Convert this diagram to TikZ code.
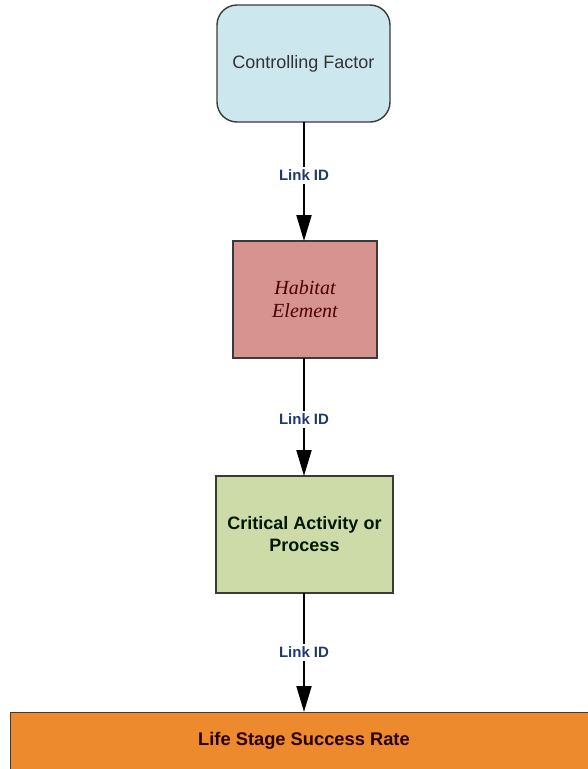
\documentclass[tikz,border=0pt]{standalone}
\usepackage{fontspec}
\setmainfont{Liberation Sans}
\newfontfamily\serifit{Liberation Serif}
\usetikzlibrary{arrows.meta}
\definecolor{cfFill}{HTML}{CDE7EE}
\definecolor{heFill}{HTML}{D69390}
\definecolor{caFill}{HTML}{CCDBA8}
\definecolor{lsFill}{HTML}{EE8A2E}
\definecolor{edgeGray}{HTML}{3A3A3A}
\definecolor{linkBlue}{HTML}{1E3A6E}
\tikzset{
  boxbase/.style={draw=edgeGray, line width=1.4pt, anchor=center, inner sep=0pt, align=center},
  linkarrow/.style={line width=2pt, -{Triangle[length=26pt,width=15pt]}},
  linklabel/.style={fill=white, text=linkBlue, font=\fontsize{15}{17}\selectfont\bfseries, inner sep=3pt}
}
\begin{document}
\begin{tikzpicture}[x=1pt,y=-1pt]
\useasboundingbox (0,0) rectangle (587,769);
% boxes
\node[boxbase, fill=cfFill, rounded corners=20pt, minimum width=173pt, minimum height=117pt,
      text=black!80, font=\fontsize{18}{21}\selectfont] (cf) at (303.5,63.5) {Controlling Factor};
\node[boxbase, fill=heFill, minimum width=144pt, minimum height=117pt,
      text=red!30!black, font=\serifit\itshape\fontsize{20}{23}\selectfont] (he) at (305,299.5) {Habitat\\Element};
\node[boxbase, fill=caFill, minimum width=177pt, minimum height=117pt,
      text=black!90!green, font=\fontsize{18}{22}\selectfont\bfseries] (ca) at (304.5,534.5) {Critical Activity or\\Process};
\node[boxbase, fill=lsFill, minimum width=600pt, minimum height=80pt, anchor=north west] (ls) at (10,712) {};
\node[text=black!85!red, font=\fontsize{18.3}{21}\selectfont\bfseries] (lst) at (304,741) {Life Stage Success Rate};
% connectors
\coordinate (cfo) at (304,122);
\coordinate (hei) at (304,241);
\coordinate (heo) at (304,358);
\coordinate (cai) at (304,476);
\coordinate (cao) at (304,593);
\coordinate (lsi) at (304,712);
\draw[linkarrow] (cfo) -- (hei) node[linklabel, pos=0.45] (l1) {Link ID};
\draw[linkarrow] (heo) -- (cai) node[linklabel, pos=0.52] (l2) {Link ID};
\draw[linkarrow] (cao) -- (lsi) node[linklabel, pos=0.5] (l3) {Link ID};
\end{tikzpicture}
\end{document}
